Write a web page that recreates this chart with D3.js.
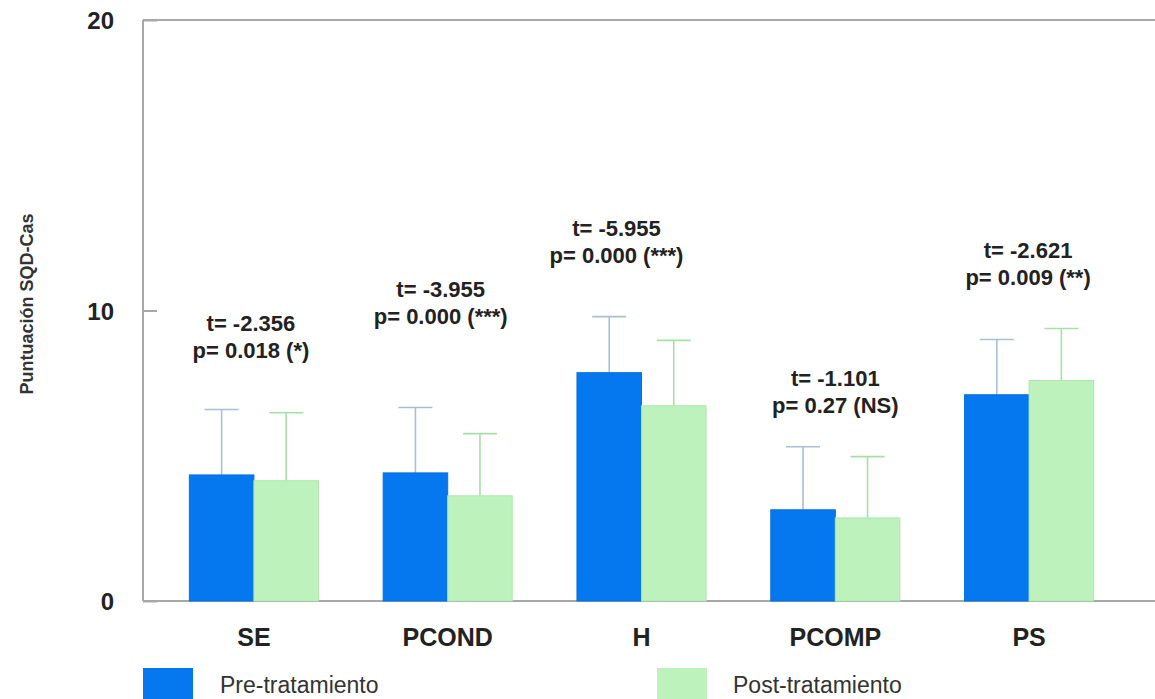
<!DOCTYPE html>
<html>
<head>
<meta charset="utf-8">
<script src="https://cdn.jsdelivr.net/npm/d3@7"></script>
<style>
  body { margin: 0; background: #fff; }
  svg { display: block; font-family: "Liberation Sans", Arial, sans-serif; }
</style>
</head>
<body>
<svg></svg>
<script>
// data
const categories = ["SE", "PCOND", "H", "PCOMP", "PS"]
const preMean = [4.34, 4.41, 7.86, 3.14, 7.10]
const preSD = [2.25, 2.25, 1.93, 2.17, 1.90]
const postMean = [4.14, 3.62, 6.72, 2.86, 7.59]
const postSD = [2.34, 2.14, 2.25, 2.11, 1.79]
const tLabels = ["t= -2.356", "t= -3.955", "t= -5.955", "t= -1.101", "t= -2.621"]
const pLabels = ["p= 0.018 (*)", "p= 0.000 (***)", "p= 0.000 (***)", "p= 0.27 (NS)", "p= 0.009 (**)"]
const yTicks = [0, 10, 20]
const seriesNames = ["Pre-tratamiento", "Post-tratamiento"]

// where the t / p notes sit: [shift from group centre, height in score units]
const notePos = [[-3, 9.29], [-7, 10.46], [-25, 12.56], [0, 7.40], [-1, 11.81]]

const svgWidth = 1155
const svgHeight = 699
const plotLeft = 143, plotRight = 1155, plotTop = 20, plotBottom = 601

const blue = "#0578f0"
const green = "#bdf2bd"

var svg = d3.select("svg")
  .attr("width", svgWidth)
  .attr("height", svgHeight)

var x = d3.scaleBand()
  .domain(categories)
  .range([157, 1126])
  .paddingInner(0.334)
  .paddingOuter(0.167)

var sub = d3.scaleBand()
  .domain(["pre", "post"])
  .range([0, x.bandwidth()])

var y = d3.scaleLinear()
  .domain([0, 20])
  .range([plotBottom, plotTop])

// frame: left axis, top line, bottom axis
var frame = svg.append("g").attr("stroke", "#a8a8a8").attr("stroke-width", 2)
frame.append("line").attr("x1", plotLeft).attr("x2", plotLeft).attr("y1", plotTop).attr("y2", plotBottom)
frame.append("line").attr("x1", plotLeft).attr("x2", plotRight).attr("y1", plotTop).attr("y2", plotTop)
frame.append("line").attr("x1", plotLeft).attr("x2", plotRight).attr("y1", plotBottom).attr("y2", plotBottom)

// y axis with inward ticks
var yAxis = svg.append("g")
  .attr("transform", "translate(" + plotLeft + ",0)")
  .call(d3.axisRight(y).tickValues(yTicks).tickSize(14).tickFormat(""))
yAxis.select(".domain").remove()
yAxis.selectAll("line").attr("stroke", "#a8a8a8").attr("stroke-width", 2)

svg.append("g").selectAll("text")
  .data(yTicks)
  .enter().append("text")
  .attr("x", 114)
  .attr("y", d => y(d) + 9)
  .attr("text-anchor", "end")
  .attr("font-size", 24)
  .attr("font-weight", "bold")
  .attr("fill", "#222")
  .text(d => d)

svg.append("text")
  .attr("transform", "translate(33," + 304 + ") rotate(-90)")
  .attr("text-anchor", "middle")
  .attr("font-size", 18)
  .attr("font-weight", "bold")
  .attr("fill", "#333")
  .text("Puntuación SQD-Cas")

// bars
var rows = categories.map((c, i) => ({
  cat: c,
  vals: [
    {key: "pre", mean: preMean[i], sd: preSD[i]},
    {key: "post", mean: postMean[i], sd: postSD[i]}
  ]
}))

var groups = svg.append("g").selectAll("g")
  .data(rows)
  .enter().append("g")
  .attr("transform", d => "translate(" + x(d.cat) + ",0)")

// error bars first so the bars cover the stem
var err = groups.selectAll("g.err")
  .data(d => d.vals)
  .enter().append("g")
  .attr("class", "err")
  .attr("stroke", d => d.key === "pre" ? "#a9bfd9" : "#a6e0a6")
  .attr("stroke-width", 1.6)

err.append("line")
  .attr("x1", d => sub(d.key) + sub.bandwidth() / 2)
  .attr("x2", d => sub(d.key) + sub.bandwidth() / 2)
  .attr("y1", d => y(d.mean))
  .attr("y2", d => y(d.mean + d.sd))

err.append("line")
  .attr("x1", d => sub(d.key) + sub.bandwidth() / 2 - 17)
  .attr("x2", d => sub(d.key) + sub.bandwidth() / 2 + 17)
  .attr("y1", d => y(d.mean + d.sd))
  .attr("y2", d => y(d.mean + d.sd))

groups.selectAll("rect")
  .data(d => d.vals)
  .enter().append("rect")
  .attr("x", d => sub(d.key))
  .attr("width", sub.bandwidth())
  .attr("y", d => y(d.mean))
  .attr("height", d => y(0) - y(d.mean))
  .attr("fill", d => d.key === "pre" ? blue : green)
  .attr("stroke", d => d.key === "pre" ? "#0a70dc" : "#aee6ae")
  .attr("stroke-width", 1)

// category labels
svg.append("g").selectAll("text")
  .data(categories)
  .enter().append("text")
  .attr("x", d => x(d) + x.bandwidth() / 2)
  .attr("y", 646)
  .attr("text-anchor", "middle")
  .attr("font-size", 25)
  .attr("font-weight", "bold")
  .attr("fill", "#222")
  .text(d => d)

// t / p notes
var notes = svg.append("g").selectAll("text")
  .data(categories)
  .enter().append("text")
  .attr("text-anchor", "middle")
  .attr("font-size", 22)
  .attr("font-weight", "bold")
  .attr("fill", "#222")

notes.append("tspan")
  .attr("x", (d, i) => x(d) + x.bandwidth() / 2 + notePos[i][0])
  .attr("y", (d, i) => y(notePos[i][1]))
  .text((d, i) => tLabels[i])

notes.append("tspan")
  .attr("x", (d, i) => x(d) + x.bandwidth() / 2 + notePos[i][0])
  .attr("dy", 27)
  .text((d, i) => pLabels[i])

// legend
var legend = svg.append("g").selectAll("g")
  .data(seriesNames)
  .enter().append("g")
  .attr("transform", (d, i) => "translate(" + (i === 0 ? 143 : 657) + ",668)")

legend.append("rect")
  .attr("width", 50)
  .attr("height", 31)
  .attr("fill", (d, i) => i === 0 ? blue : green)

legend.append("text")
  .attr("x", (d, i) => i === 0 ? 77 : 76)
  .attr("y", 25)
  .attr("font-size", 23)
  .attr("fill", "#333")
  .text(d => d)
</script>
</body>
</html>
